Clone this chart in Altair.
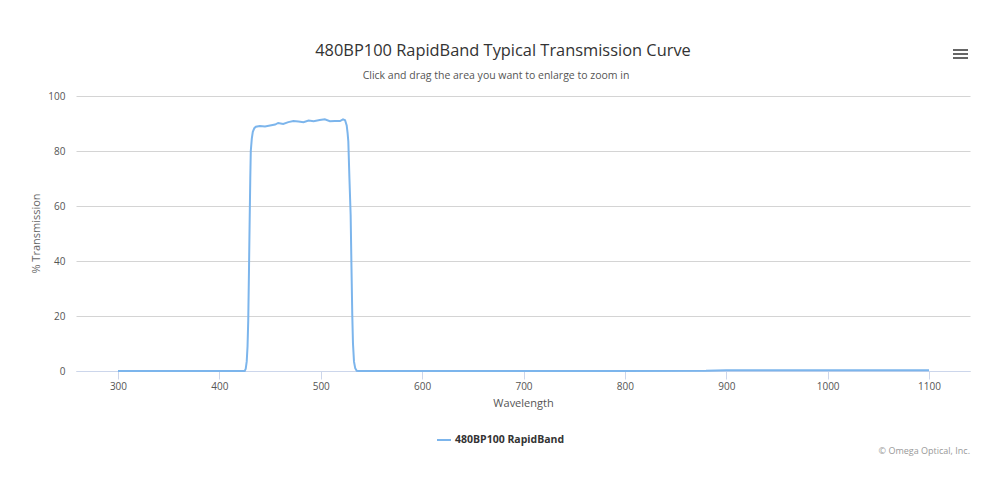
import altair as alt
import pandas as pd

# ---- data ----
wavelength = [300, 350, 400, 420, 425, 426, 427, 427.8, 428.5, 429.2, 429.9, 430.5, 431, 432, 433,
              434.5, 436, 440, 445, 450, 455, 458, 463, 468, 473, 478, 483, 488, 493, 499, 504,
              509, 514, 519, 522, 524, 525.6, 526.5, 527.2, 528.3, 529.5, 530.3, 531.1, 531.8,
              532.8, 534, 535.5, 537, 600, 700, 800, 880, 900, 1000, 1100]
transmission = [0, 0, 0, 0, 0, 0.8, 3.5, 9, 18.5, 36, 55, 70, 80, 84.5, 87,
                88.3, 88.8, 89.1, 88.9, 89.3, 89.6, 90.2, 89.8, 90.5, 90.9, 90.7, 90.5, 91.1, 90.8, 91.3, 91.5,
                90.8, 90.9, 90.9, 91.5, 91.2, 89.3, 86.5, 83.5, 70, 56.7, 38, 20.4, 10,
                3.4, 1, 0.1, 0, 0, 0, 0, 0.1, 0.3, 0.3, 0.3]
series_name = "480BP100 RapidBand"
x_ticks = [300, 400, 500, 600, 700, 800, 900, 1000, 1100]
y_ticks = [0, 20, 40, 60, 80, 100]
title_text = "480BP100 RapidBand Typical Transmission Curve"
subtitle_text = "Click and drag the area you want to enlarge to zoom in"
credits_text = "\u00a9 Omega Optical, Inc."

df = pd.DataFrame({"Wavelength": wavelength, "Transmission": transmission,
                   "Series": [series_name] * len(wavelength)})

FONT = "Open Sans"
W, H = 894, 275

line = alt.Chart(df).mark_line(strokeWidth=2, interpolate="linear").encode(
    x=alt.X("Wavelength:Q",
            scale=alt.Scale(domain=[258.6, 1140.4], nice=False, zero=False),
            axis=alt.Axis(values=x_ticks, format="d", title="Wavelength", grid=False,
                          tickSize=8, tickColor="#ccd6eb", domainColor="#ccd6eb",
                          labelColor="#555555", labelFontSize=10, labelFont=FONT, labelPadding=2,
                          titleFont=FONT, titleFontSize=11, titleFontWeight="normal",
                          titleColor="#555555", titleY=32, titleBaseline="middle")),
    y=alt.Y("Transmission:Q",
            scale=alt.Scale(domain=[0, 100], nice=False),
            axis=alt.Axis(values=y_ticks, title="% Transmission", grid=True, gridColor="#d4d4d4",
                          domain=False, ticks=False, labelPadding=11,
                          labelColor="#555555", labelFontSize=10, labelFont=FONT,
                          titleFont=FONT, titleFontSize=11, titleFontWeight="normal",
                          titleColor="#666666", titleX=-40, titleY=137, titleAngle=-90,
                          titleAlign="center", titleBaseline="middle")),
    color=alt.Color("Series:N", scale=alt.Scale(range=["#7cb5ec"]),
                    legend=alt.Legend(orient="none", legendX=360, legendY=336, title=None,
                                      symbolType="stroke", symbolStrokeWidth=2, symbolSize=196,
                                      labelFontWeight="bold", labelFontSize=10.5, labelColor="#333333",
                                      labelFont=FONT, padding=0, labelOffset=3)),
)

def text_layer(txt, x, y, size, color, align="center", weight="normal"):
    return alt.Chart(pd.DataFrame({"t": [txt]})).mark_text(
        font=FONT, fontSize=size, color=color, align=align, baseline="middle", fontWeight=weight
    ).encode(text="t:N", x=alt.value(x), y=alt.value(y))

title = text_layer(title_text, 427, -45, 16.4, "#333333")
subtitle = text_layer(subtitle_text, 420, -20, 10.5, "#555555")
credits = text_layer(credits_text, 894, 355, 9, "#999999", align="right")

menu = [alt.Chart(pd.DataFrame({"k": [0]})).mark_rule(color="#666666", strokeWidth=2).encode(
    x=alt.value(877), x2=alt.value(892), y=alt.value(yy)) for yy in (-46, -42, -38)]

chart = alt.layer(line, title, subtitle, credits, *menu).properties(
    width=W, height=H,
    autosize=alt.AutoSizeParams(type="none"),
    padding={"left": 68, "top": 88, "right": 22, "bottom": 100},
).configure_view(stroke=None)

chart.save("out.html", embed_options={"renderer": "svg", "actions": False})
